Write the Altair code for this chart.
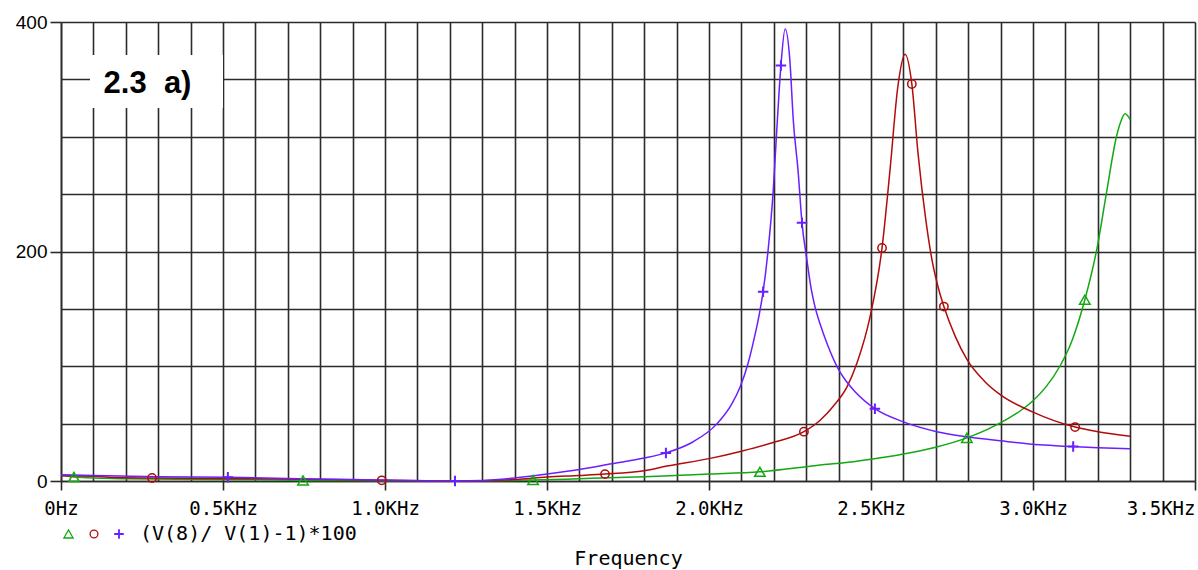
import altair as alt
import pandas as pd

# ---------------- data ----------------
series_names = ["green", "red", "blue"]
series_colors = ["#12a812", "#b00c0c", "#6a1fff"]

green_f = [0, 0.04, 0.08, 0.2, 0.6, 0.747, 1.0, 1.2, 1.3, 1.457, 1.6, 1.8, 1.91, 2.0, 2.157,
           2.3, 2.343, 2.404, 2.5, 2.6, 2.7, 2.796, 2.92, 2.96, 3.0, 3.04, 3.083, 3.12, 3.16,
           3.197, 3.227, 3.258, 3.272, 3.284, 3.3]
green_v = [5, 3.5, 2.9, 2.0, 1.0, 0.5, 0.3, 0.1, 0.2, 0.8, 2, 3.8, 5, 6, 8,
           12.5, 14, 15.5, 19, 23.5, 29.5, 37.6, 54, 61, 70, 82, 100, 122, 158,
           202, 251.5, 300.7, 314, 320, 315]

red_f = [0, 0.1, 0.16, 0.281, 0.6, 0.8, 0.99, 1.1, 1.2, 1.3, 1.4, 1.5, 1.6, 1.679, 1.8, 1.87,
         2.0, 2.1, 2.198, 2.293, 2.343, 2.383, 2.426, 2.457, 2.497, 2.534, 2.559, 2.583, 2.605,
         2.626, 2.645, 2.669, 2.69, 2.71, 2.725, 2.76, 2.796, 2.85, 2.9, 3.0, 3.13, 3.2, 3.3]
red_v = [4.6, 4.2, 3.0, 2.6, 2.0, 1.4, 0.6, 0.3, 0.1, 0.3, 1.2, 3.5, 4.8, 6, 9, 13,
         19.5, 26, 33.5, 43, 53, 65, 82, 103, 143, 203, 272, 344, 372,
         346, 286, 228, 190, 166, 152, 126, 106, 87, 75, 60, 47, 43, 39]

blue_f = [0, 0.1, 0.3, 0.515, 0.7, 0.9, 1.0, 1.1, 1.216, 1.3, 1.4, 1.5, 1.6, 1.7, 1.8, 1.867,
          1.95, 2.025, 2.07, 2.096, 2.12, 2.136, 2.155, 2.167, 2.182, 2.198, 2.209, 2.222,
          2.235, 2.25, 2.26, 2.275, 2.287, 2.302, 2.315, 2.327, 2.345, 2.364, 2.404, 2.426,
          2.45, 2.512, 2.6, 2.703, 2.796, 2.9, 3.02, 3.124, 3.2, 3.3]
blue_v = [5.5, 4.8, 3.8, 3.2, 2.2, 1.2, 0.8, 0.4, 0.1, 0.5, 2.6, 6, 10, 15, 20, 24.5,
          34, 50, 67, 82, 102, 120, 145, 165, 200, 252, 305, 362,
          394, 365, 315, 270, 225, 193, 168, 152, 135, 120, 95, 86,
          78, 63, 51.5, 43, 38.5, 35, 31.5, 30, 29, 28]

green_mark_f = [0.04, 0.747, 1.457, 2.157, 2.796, 3.16]
green_mark_v = [3.5, 0.5, 0.8, 8, 37.6, 158]
red_mark_f = [0.281, 0.99, 1.679, 2.293, 2.534, 2.626, 2.725, 3.13]
red_mark_v = [2.6, 0.6, 6, 43, 203, 346, 152, 47]
blue_mark_f = [0.515, 1.216, 1.867, 2.167, 2.222, 2.287, 2.512, 3.124]
blue_mark_v = [3.2, 0.1, 24.5, 165, 362, 225, 63, 30]

x_label_vals = [0, 5, 10, 15, 20, 25, 30, 35]          # in 0.1 kHz
x_label_text = ["0Hz", "0.5KHz", "1.0KHz", "1.5KHz", "2.0KHz", "2.5KHz", "3.0KHz", "3.5KHz"]
y_label_vals = [0, 200, 400]
y_label_text = ["0", "200", "400"]
x_grid = [i / 10 for i in range(36)]
y_grid = [i * 50 for i in range(9)]

panel_label = "2.3\u00a0 a)"
legend_text = "(V(8)/ V(1)-1)*100"
x_title = "Frequency"

# ---------------- build tables ----------------
curves = pd.concat([
    pd.DataFrame({"f": green_f, "v": green_v, "s": series_names[0]}),
    pd.DataFrame({"f": red_f, "v": red_v, "s": series_names[1]}),
    pd.DataFrame({"f": blue_f, "v": blue_v, "s": series_names[2]}),
])
gm = pd.DataFrame({"f": green_mark_f, "v": green_mark_v})
rm = pd.DataFrame({"f": red_mark_f, "v": red_mark_v})
bm = pd.DataFrame({"f": blue_mark_f, "v": blue_mark_v})

grid_col = "#2b2b2b"
mono = "DejaVu Sans Mono"

def ternary(vals, texts, key):
    expr = "''"
    for v, t in reversed(list(zip(vals, texts))):
        expr = f"({key}=={v} ? '{t}' : {expr})"
    return expr

xkey = "round(datum.value*10)"
x_major_test = "abs(datum.value*2 - round(datum.value*2)) < 0.001"
y_major_test = "datum.value % 200 == 0"

X = alt.X("f:Q",
          scale=alt.Scale(domain=[0, 3.5], nice=False, zero=False),
          axis=alt.Axis(values=x_grid, grid=True, gridColor=grid_col, gridWidth=1.6,
                        domainColor=grid_col, domainWidth=1.6,
                        tickSize=9, tickColor=grid_col, tickWidth=1.6,
                        tickOpacity={"condition": {"test": x_major_test, "value": 1}, "value": 0},
                        labelExpr=ternary(x_label_vals, x_label_text, xkey),
                        labelFont=mono, labelFontSize=19, labelColor="black",
                        labelBaseline="alphabetic", labelPadding=24, labelOverlap=False,
                        labelAlign={"condition": {"test": "datum.value >= 3.49", "value": "right"},
                                    "value": "center"},
                        title=x_title, titleFont=mono, titleFontSize=20, titleFontWeight="normal",
                        titleColor="black", titleBaseline="alphabetic", titleY=83))
Y = alt.Y("v:Q",
          scale=alt.Scale(domain=[0, 400], nice=False),
          axis=alt.Axis(values=y_grid, grid=True, gridColor=grid_col, gridWidth=1.6,
                        domainColor=grid_col, domainWidth=1.6,
                        tickSize=11, tickColor=grid_col, tickWidth=1.6,
                        tickOpacity={"condition": {"test": y_major_test, "value": 1}, "value": 0},
                        labelExpr=ternary(y_label_vals, y_label_text, "datum.value"),
                        labelFont="Liberation Sans", labelFontSize=19, labelColor="black",
                        labelPadding=3, labelOverlap=False, title=None))

lines = alt.Chart(curves).mark_line(strokeWidth=1.5, interpolate="monotone").encode(
    x=X, y=Y,
    color=alt.Color("s:N", scale=alt.Scale(domain=series_names, range=series_colors), legend=None),
    detail="s:N",
)

plus_path = "M-1,0L1,0M0,-1L0,1"
g_pts = alt.Chart(gm).mark_point(shape="triangle-up", filled=False, size=110, strokeWidth=1.5,
                                 color=series_colors[0], opacity=1).encode(x=X, y=Y)
r_pts = alt.Chart(rm).mark_point(shape="circle", filled=False, size=70, strokeWidth=1.5,
                                 color=series_colors[1], opacity=1).encode(x=X, y=Y)
b_pts = alt.Chart(bm).mark_point(shape=plus_path, filled=False, size=110, strokeWidth=2,
                                 color=series_colors[2], opacity=1).encode(x=X, y=Y)

one = pd.DataFrame({"k": [0]})
box = alt.Chart(one).mark_rect(color="white").encode(
    x=alt.value(29), x2=alt.value(162), y=alt.value(33), y2=alt.value(86))
box_text = alt.Chart(one).mark_text(text=panel_label, font="Liberation Sans", fontSize=31,
                                    fontWeight="bold", color="black", align="center",
                                    baseline="alphabetic").encode(x=alt.value(86.5), y=alt.value(71))

leg_g = alt.Chart(one).mark_point(shape="triangle-up", filled=False, size=85, strokeWidth=1.3,
                                  color=series_colors[0], opacity=1).encode(x=alt.value(7.5), y=alt.value(512))
leg_r = alt.Chart(one).mark_point(shape="circle", filled=False, size=60, strokeWidth=1.3,
                                  color=series_colors[1], opacity=1).encode(x=alt.value(33), y=alt.value(512))
leg_b = alt.Chart(one).mark_point(shape=plus_path, filled=False, size=90, strokeWidth=1.8,
                                  color=series_colors[2], opacity=1).encode(x=alt.value(58), y=alt.value(512))
leg_t = alt.Chart(one).mark_text(text=legend_text, font=mono, fontSize=20, color="black",
                                 align="left", baseline="alphabetic").encode(x=alt.value(79), y=alt.value(518))

chart = alt.layer(lines, g_pts, r_pts, b_pts, box, box_text, leg_g, leg_r, leg_b, leg_t).properties(
    width=1134, height=459,
    padding={"left": 61, "top": 22, "right": 3, "bottom": 89},
    autosize=alt.AutoSizeParams(type="none"),
    background="white",
).configure_view(strokeWidth=0)

chart.save("out.html", embed_options={"renderer": "svg", "actions": False})
